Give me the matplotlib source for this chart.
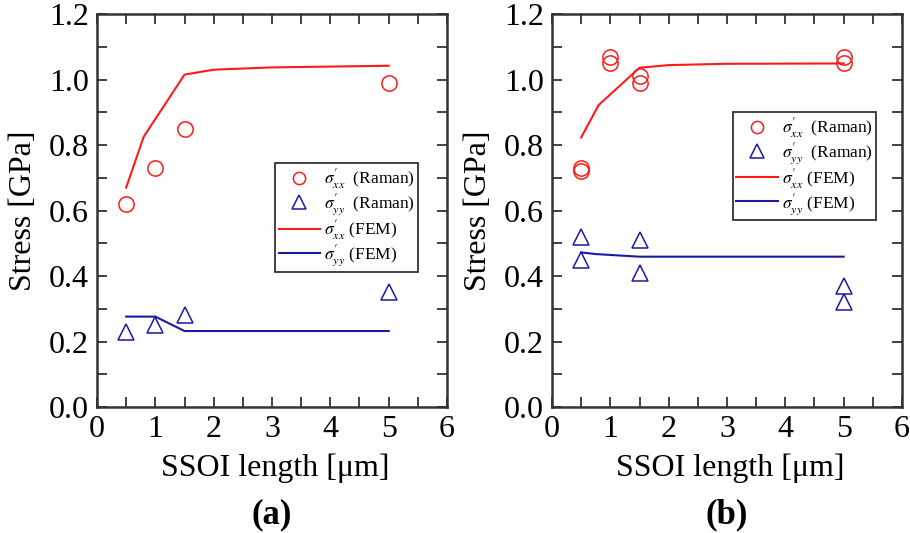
import matplotlib
matplotlib.use("Agg")
import matplotlib.pyplot as plt
from matplotlib.ticker import MultipleLocator

plt.rcParams['font.family'] = ['Liberation Serif', 'DejaVu Serif']
plt.rcParams['mathtext.fontset'] = 'stix'

# (a) measured Raman stress and FEM results
a_raman_x = [0.5, 1.0, 1.5, 5.0]
a_raman_sxx = [0.62, 0.73, 0.85, 0.99]
a_raman_syy = [0.23, 0.25, 0.28, 0.35]
a_fem_x = [0.5, 0.8, 1.5, 2.0, 3.0, 5.0]
a_fem_sxx = [0.67, 0.825, 1.015, 1.03, 1.037, 1.042]
a_fem_syy_x = [0.5, 1.0, 1.5, 5.0]
a_fem_syy = [0.276, 0.276, 0.232, 0.232]

# (b) two measurements per length
b_raman_x = [0.5, 0.5, 1.0, 1.0, 1.5, 1.5, 5.0, 5.0]
b_raman_sxx = [0.73, 0.72, 1.07, 1.05, 1.01, 0.99, 1.07, 1.05]
b_raman_syy_x = [0.5, 0.5, 1.5, 1.5, 5.0, 5.0]
b_raman_syy = [0.52, 0.45, 0.51, 0.41, 0.37, 0.32]
b_fem_x = [0.5, 0.8, 1.5, 2.0, 3.0, 5.0]
b_fem_sxx = [0.823, 0.922, 1.036, 1.044, 1.048, 1.049]
b_fem_syy_x = [0.5, 0.75, 1.5, 5.0]
b_fem_syy = [0.472, 0.467, 0.459, 0.459]

RED = '#ff1a1a'
BLUE = '#1a1aa0'
FS = 23


def draw_panel(ax, rx, sxx, ryx, syy, fx, fsxx, fyx, fsyy, legend_pos, tag):
    ax.plot(rx, sxx, linestyle='none', marker='o', markersize=11, markerfacecolor='none',
            markeredgecolor=RED, markeredgewidth=1.1, label=r"$\sigma_{xx}'$  (Raman)")
    ax.plot(ryx, syy, linestyle='none', marker='^', markersize=12, markerfacecolor='none',
            markeredgecolor=BLUE, markeredgewidth=1.1, label=r"$\sigma_{yy}'$  (Raman)")
    ax.plot(fx, fsxx, color=RED, linewidth=1.5, label=r"$\sigma_{xx}'$ (FEM)")
    ax.plot(fyx, fsyy, color=BLUE, linewidth=1.5, label=r"$\sigma_{yy}'$ (FEM)")

    ax.set_xlim(0, 6)
    ax.set_ylim(0, 1.2)
    ax.xaxis.set_major_locator(MultipleLocator(1))
    ax.xaxis.set_minor_locator(MultipleLocator(0.5))
    ax.yaxis.set_major_locator(MultipleLocator(0.2))
    ax.yaxis.set_minor_locator(MultipleLocator(0.1))
    ax.yaxis.set_major_formatter(plt.FuncFormatter(lambda v, p: '%.1f' % v))
    ax.tick_params(which='both', direction='in', top=True, right=True, length=7,
                   width=1.3, color='#333333', labelsize=FS, pad=6)
    for s in ax.spines.values():
        s.set_linewidth(1.8)
        s.set_color('#333333')

    ax.set_ylabel('Stress [GPa]', fontsize=FS)
    ax.yaxis.set_label_coords(-0.17, 0.5)
    ax.text(0.51, -0.155, 'SSOI length [\u03bcm]', transform=ax.transAxes,
            ha='center', va='center', fontsize=FS)
    ax.text(0.5, -0.275, tag, transform=ax.transAxes, ha='center', va='center',
            fontsize=FS + 2, fontweight='bold')

    leg = ax.legend(loc='upper left', bbox_to_anchor=legend_pos, fontsize=12.5,
                    handlelength=2.4, handletextpad=0.2, labelspacing=0.0,
                    borderpad=0.2, borderaxespad=0, markerscale=0.8,
                    frameon=True, fancybox=False)
    leg.get_frame().set_edgecolor('black')
    leg.get_frame().set_linewidth(1.3)


fig = plt.figure(figsize=(9.1, 5.33), dpi=100)
ax1 = fig.add_axes([0.1066, 0.2364, 0.3846, 0.7373])
ax2 = fig.add_axes([0.6066, 0.2364, 0.3846, 0.7373])

draw_panel(ax1, a_raman_x, a_raman_sxx, a_raman_x, a_raman_syy,
           a_fem_x, a_fem_sxx, a_fem_syy_x, a_fem_syy, (0.509, 0.621), '(a)')
draw_panel(ax2, b_raman_x, b_raman_sxx, b_raman_syy_x, b_raman_syy,
           b_fem_x, b_fem_sxx, b_fem_syy_x, b_fem_syy, (0.517, 0.751), '(b)')

fig.savefig('out.png', dpi=100)
